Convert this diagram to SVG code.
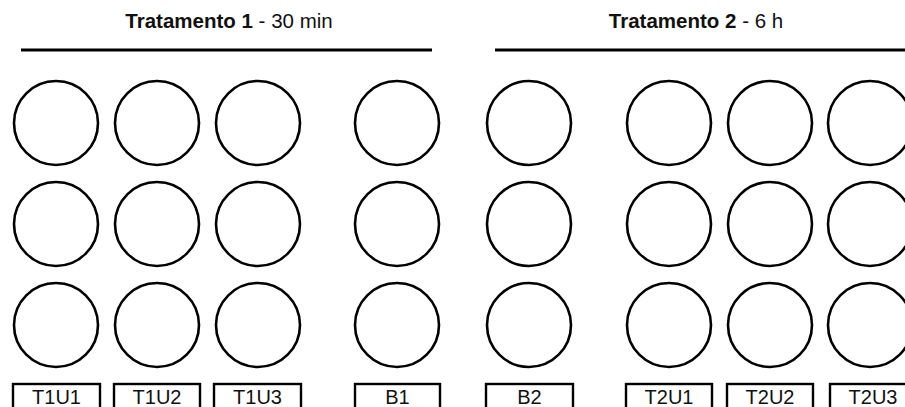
<svg xmlns="http://www.w3.org/2000/svg" width="905" height="407" viewBox="0 0 905 407">
<style>
.well{fill:#fff;stroke:#000;stroke-width:2.6}
.box{fill:#fff;stroke:#000;stroke-width:2.4}
.lbl{font-family:"Liberation Sans",Arial,sans-serif;font-size:20px;fill:#111;text-anchor:middle}
.title{font-family:"Liberation Sans",Arial,sans-serif;font-size:20.5px;fill:#111;text-anchor:middle}
.hdr{stroke:#000;stroke-width:3.2}
</style>
<rect width="905" height="407" fill="#fff"/>
<g id="header1">
<text class="title" x="229" y="28"><tspan font-weight="bold">Tratamento 1</tspan> - 30 min</text>
<line class="hdr" x1="21" y1="50" x2="432" y2="50"/>
</g>
<g id="header2">
<text class="title" x="696" y="28"><tspan font-weight="bold">Tratamento 2</tspan> - 6 h</text>
<line class="hdr" x1="495" y1="50" x2="906" y2="50"/>
</g>
<g id="T1U1">
<circle class="well" cx="56" cy="123" r="42"/><circle class="well" cx="56" cy="224" r="42"/><circle class="well" cx="56" cy="325" r="42"/>
<rect class="box" x="13" y="384" width="87" height="30"/><text class="lbl" x="56.5" y="404">T1U1</text>
</g>
<g id="T1U2">
<circle class="well" cx="157" cy="123" r="42"/><circle class="well" cx="157" cy="224" r="42"/><circle class="well" cx="157" cy="325" r="42"/>
<rect class="box" x="114" y="384" width="86" height="30"/><text class="lbl" x="157" y="404">T1U2</text>
</g>
<g id="T1U3">
<circle class="well" cx="258" cy="123" r="42"/><circle class="well" cx="258" cy="224" r="42"/><circle class="well" cx="258" cy="325" r="42"/>
<rect class="box" x="214" y="384" width="87" height="30"/><text class="lbl" x="257.5" y="404">T1U3</text>
</g>
<g id="B1">
<circle class="well" cx="397" cy="123" r="42"/><circle class="well" cx="397" cy="224" r="42"/><circle class="well" cx="397" cy="325" r="42"/>
<rect class="box" x="355" y="384" width="85" height="30"/><text class="lbl" x="397.5" y="404">B1</text>
</g>
<g id="B2">
<circle class="well" cx="529" cy="123" r="42"/><circle class="well" cx="529" cy="224" r="42"/><circle class="well" cx="529" cy="325" r="42"/>
<rect class="box" x="486" y="384" width="87" height="30"/><text class="lbl" x="529.5" y="404">B2</text>
</g>
<g id="T2U1">
<circle class="well" cx="669" cy="123" r="42"/><circle class="well" cx="669" cy="224" r="42"/><circle class="well" cx="669" cy="325" r="42"/>
<rect class="box" x="626" y="384" width="86" height="30"/><text class="lbl" x="669" y="404">T2U1</text>
</g>
<g id="T2U2">
<circle class="well" cx="770" cy="123" r="42"/><circle class="well" cx="770" cy="224" r="42"/><circle class="well" cx="770" cy="325" r="42"/>
<rect class="box" x="727" y="384" width="86" height="30"/><text class="lbl" x="770" y="404">T2U2</text>
</g>
<g id="T2U3">
<circle class="well" cx="870" cy="123" r="42"/><circle class="well" cx="870" cy="224" r="42"/><circle class="well" cx="870" cy="325" r="42"/>
<rect class="box" x="830" y="384" width="86" height="30"/><text class="lbl" x="873" y="404">T2U3</text>
</g>
<g id="connectors"/>
</svg>
